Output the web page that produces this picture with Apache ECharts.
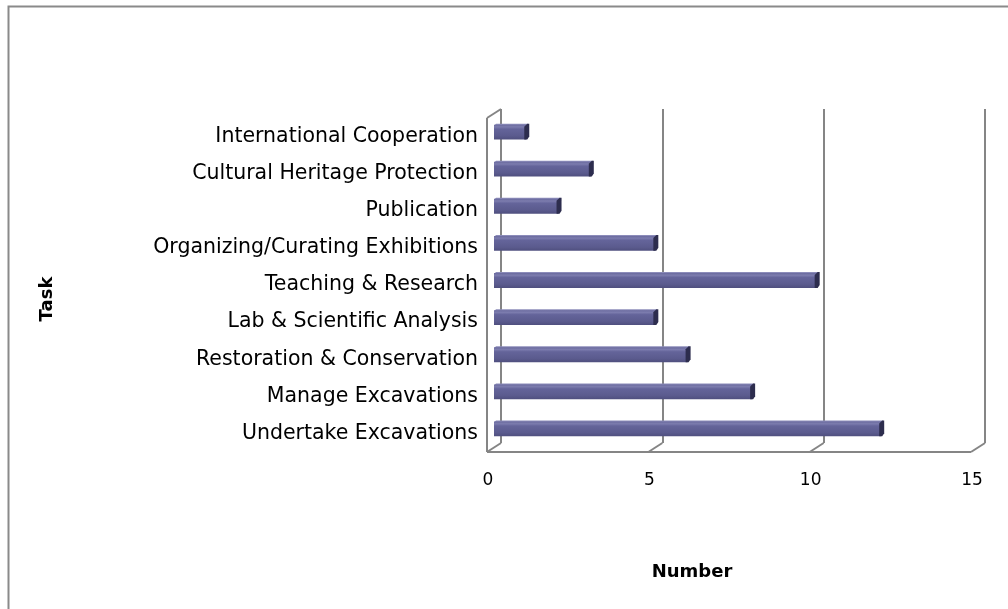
<!DOCTYPE html>
<html>
<head>
<meta charset="utf-8">
<style>
  html, body { margin: 0; padding: 0; background: #fff; }
  #chart { width: 1008px; height: 609px; }
</style>
<script src="https://cdn.jsdelivr.net/npm/echarts@6/dist/echarts.min.js"></script>
</head>
<body>
<div id="chart"></div>
<script>
// Task categories, listed from the bottom of the axis upward
const tasks = [
  'Undertake Excavations',
  'Manage Excavations',
  'Restoration & Conservation',
  'Lab & Scientific Analysis',
  'Teaching & Research',
  'Organizing/Curating Exhibitions',
  'Publication',
  'Cultural Heritage Protection',
  'International Cooperation'
];
const counts = [12, 8, 6, 5, 10, 5, 2, 3, 1];
const numberTicks = [0, 5, 10, 15];

// Depth of the pseudo-3D box: offset from the back wall to the front edge
const DX = -14, DY = 9;
const FONT = 'DejaVu Sans';
const GRID_COLOR = '#858585';

const chart = echarts.init(document.getElementById('chart'));

function renderBar(params, api) {
  const cat = api.value(0);
  const val = api.value(1);
  const p0 = api.coord([0, cat]);
  const p1 = api.coord([val, cat]);
  const h = api.size([0, 1])[1] * 0.4;
  // bars sit halfway between the back wall and the front edge
  const x0 = p0[0] + DX / 2;
  const x1 = p1[0] + DX / 2;
  const yc = p1[1] + DY / 2;
  const yt = yc - h / 2, yb = yc + h / 2;
  return {
    type: 'group',
    children: [
      {
        type: 'polygon',
        shape: { points: [[x0, yt + 1], [x0 + 2, yt - 1], [x1 + 2, yt - 1], [x1, yt + 1]] },
        style: { fill: '#8c8cba' }
      },
      {
        type: 'rect',
        shape: { x: x0, y: yt, width: x1 - x0, height: h },
        style: {
          fill: new echarts.graphic.LinearGradient(0, 0, 0, 1, [
            { offset: 0, color: '#6a6a9e' },
            { offset: 0.15, color: '#7c7cae' },
            { offset: 0.3, color: '#64649a' },
            { offset: 0.75, color: '#5b5b8e' },
            { offset: 1, color: '#4f4f7e' }
          ])
        }
      },
      {
        type: 'polygon',
        shape: {
          points: [[x1 - 2, yb], [x1 - 2, yt + 2], [x1 + 1, yt - 1], [x1 + 3, yt - 1],
                   [x1 + 3, yb - 3], [x1 + 1, yb]]
        },
        style: { fill: '#2d2d4e' }
      }
    ]
  };
}

function renderFrame(params, api) {
  const cs = params.coordSys;
  const left = cs.x, top = cs.y, bottom = cs.y + cs.height;
  const lineStyle = { stroke: GRID_COLOR, lineWidth: 2, fill: null };
  const children = [];
  const xs = numberTicks.map(t => api.coord([t, 0])[0]);
  // front edge of the floor
  children.push({
    type: 'line',
    shape: { x1: xs[0] + DX, y1: bottom + DY, x2: xs[xs.length - 1] + DX, y2: bottom + DY },
    style: lineStyle
  });
  // floor depth lines at each tick
  xs.forEach(x => children.push({
    type: 'line',
    shape: { x1: x, y1: bottom, x2: x + DX, y2: bottom + DY },
    style: lineStyle
  }));
  // side wall: front edge and top edge
  children.push({
    type: 'line',
    shape: { x1: left + DX, y1: top + DY, x2: left + DX, y2: bottom + DY },
    style: lineStyle
  });
  children.push({
    type: 'line',
    shape: { x1: left, y1: top, x2: left + DX, y2: top + DY },
    style: lineStyle
  });
  return { type: 'group', children };
}

chart.setOption({
  animation: false,
  backgroundColor: '#fff',
  grid: { left: 501, right: 23, top: 109, bottom: 166, containLabel: false },
  xAxis: {
    type: 'value',
    min: 0,
    max: 15,
    interval: 5,
    axisLine: { show: false },
    axisTick: { show: false },
    splitLine: { show: true, lineStyle: { color: GRID_COLOR, width: 2 } },
    axisLabel: {
      fontFamily: FONT,
      fontSize: 17,
      color: '#000',
      margin: 29,
      padding: [0, 26, 0, 0]
    }
  },
  yAxis: {
    type: 'category',
    data: tasks,
    axisLine: { show: false },
    axisTick: { show: false },
    splitLine: { show: false },
    axisLabel: {
      fontFamily: FONT,
      fontSize: 20.5,
      color: '#000',
      margin: 23,
      verticalAlign: 'top',
      lineHeight: 18
    }
  },
  series: [
    {
      type: 'custom',
      name: 'frame',
      renderItem: renderFrame,
      data: [[0, 0]],
      clip: false,
      silent: true,
      z: 1
    },
    {
      type: 'custom',
      name: 'Number',
      renderItem: renderBar,
      encode: { x: 1, y: 0 },
      data: counts.map((v, i) => [i, v]),
      clip: false,
      z: 2
    }
  ],
  graphic: [
    {
      type: 'rect',
      left: 6,
      top: 4,
      shape: { width: 1100, height: 700 },
      style: { fill: null, stroke: '#8a8a8a', lineWidth: 2 },
      silent: true
    },
    {
      type: 'text',
      x: 47,
      y: 299,
      rotation: Math.PI / 2,
      style: {
        text: 'Task',
        fontFamily: FONT,
        fontWeight: 'bold',
        fontSize: 18,
        fill: '#000',
        align: 'center',
        verticalAlign: 'middle'
      }
    },
    {
      type: 'text',
      x: 692,
      y: 572,
      style: {
        text: 'Number',
        fontFamily: FONT,
        fontWeight: 'bold',
        fontSize: 18,
        fill: '#000',
        align: 'center',
        verticalAlign: 'middle'
      }
    }
  ]
});
</script>
</body>
</html>
